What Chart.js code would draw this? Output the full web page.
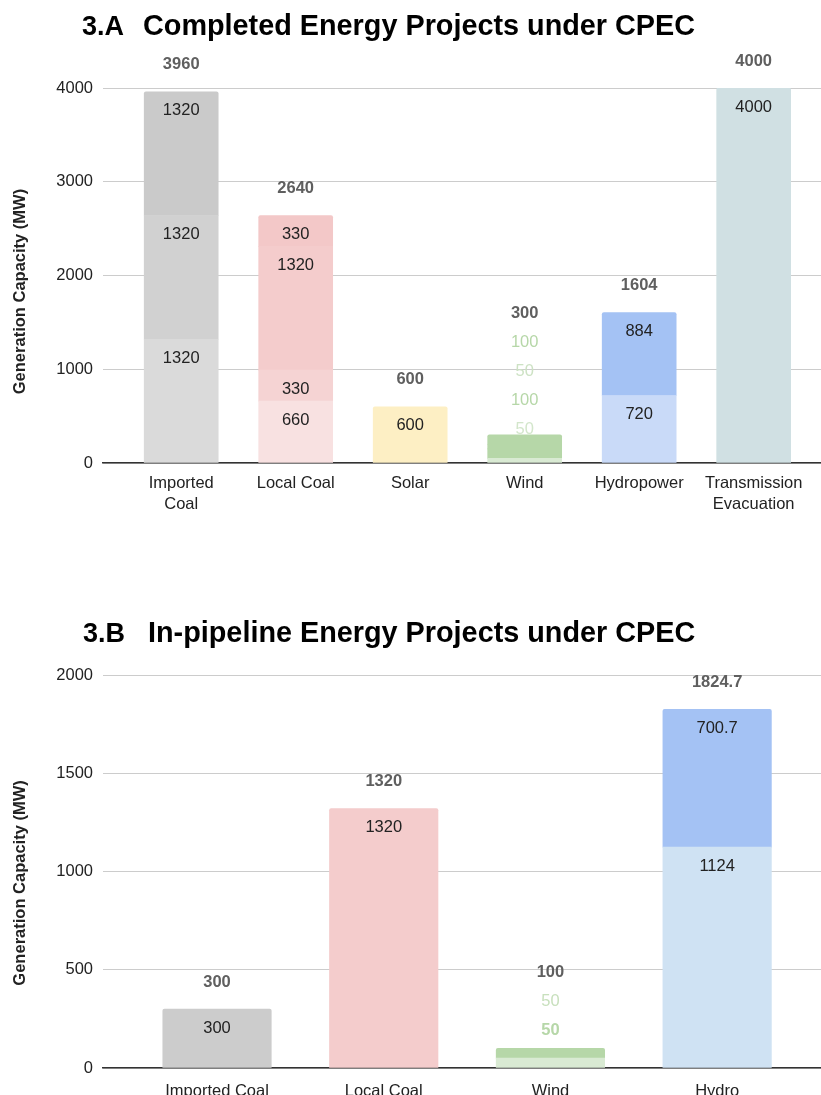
<!DOCTYPE html>
<html>
<head>
<meta charset="utf-8">
<script src="https://cdn.jsdelivr.net/npm/chart.js@4.4.1/dist/chart.umd.min.js"></script>
<style>
html, body { margin: 0; padding: 0; background: #fff; }
body { width: 821px; height: 1095px; position: relative; overflow: hidden; font-family: 'Liberation Sans', Arial, sans-serif; }
canvas { position: absolute; left: 0; }
#chartA { top: 0; }
#chartB { top: 580px; }
.title { position: absolute; font-weight: bold; font-size: 28.8px; line-height: 28px; white-space: nowrap; color: #000; }
.title.num { font-size: 27px; }
</style>
</head>
<body>
<canvas id="chartA" width="821" height="560"></canvas>
<canvas id="chartB" width="821" height="515"></canvas>
<div class="title num" style="left:82px;top:12px;">3.A</div>
<div class="title" style="left:143px;top:11px;">Completed Energy Projects under CPEC</div>
<div class="title num" style="left:83px;top:619px;">3.B</div>
<div class="title" style="left:148px;top:618px;">In-pipeline Energy Projects under CPEC</div>
<script>
// 3.A completed projects (MW), stacked from the bottom segment up
var labelsA = [['Imported', 'Coal'], 'Local Coal', 'Solar', 'Wind', 'Hydropower', ['Transmission', 'Evacuation']];
var layer1A = [1320, 660, 600, 50, 720, 4000];
var layer2A = [1320, 330, null, 100, 884, null];
var layer3A = [1320, 1320, null, 50, null, null];
var layer4A = [null, 330, null, 100, null, null];
var colors1A = ['#dadada', '#f8e1e1', '#fdefc4', '#d9ead3', '#c9daf8', '#d0e0e3'];
var colors2A = ['#d1d1d1', '#f5d3d3', null, '#b6d7a8', '#a4c2f4', null];
var colors3A = ['#cacaca', '#f4cccc', null, '#b6d7a8', null, null];
var colors4A = [null, '#f3c8c8', null, '#b6d7a8', null, null];

// 3.B in-pipeline projects (MW)
var labelsB = ['Imported Coal', 'Local Coal', 'Wind', 'Hydro'];
var layer1B = [300, 1320, 50, 1124];
var layer2B = [null, null, 50, 700.7];
var colors1B = ['#cccccc', '#f4cccc', '#d9ead3', '#cfe2f3'];
var colors2B = [null, null, '#b6d7a8', '#a4c2f4'];

Chart.defaults.font.family = "'Liberation Sans', Arial, sans-serif";
Chart.defaults.font.size = 16.5;
Chart.defaults.color = '#222';

function makeSets(layers, colors) {
    return layers.map(function (vals, k) {
        var pts = [], cols = [], radii = [];
        vals.forEach(function (v, i) {
            if (v === null) return;
            var isTop = layers.slice(k + 1).every(function (l) { return l[i] === null; });
            pts.push({x: i, y: v});
            cols.push(colors[k][i]);
            radii.push(isTop ? 2 : 0);
        });
        return { data: pts, backgroundColor: cols, borderWidth: 0, borderRadius: radii };
    });
}

// value labels: inside each segment, or stacked above the bar when the segments are thin
var segLabels = {
    id: 'segLabels',
    afterDatasetsDraw: function (chart, args, opts) {
        var ctx = chart.ctx;
        ctx.save();
        ctx.textAlign = 'center';
        ctx.textBaseline = 'middle';
        for (var i = 0; i < opts.count; i++) {
            var segs = [];
            chart.data.datasets.forEach(function (ds, k) {
                var meta = chart.getDatasetMeta(k);
                ds.data.forEach(function (p, j) {
                    if (p.x === i) segs.push({el: meta.data[j], v: p.y, k: k});
                });
            });
            var total = 0, top = Infinity, thin = false, cx = 0;
            segs.forEach(function (s) {
                var pr = s.el.getProps(['x', 'y', 'base'], true);
                s.top = pr.y; cx = pr.x;
                if (pr.base - pr.y < 24) thin = true;
                top = Math.min(top, pr.y);
                total += s.v;
            });
            var yy;
            if (!thin) {
                ctx.font = '16.5px "Liberation Sans", Arial, sans-serif';
                ctx.fillStyle = '#222';
                segs.forEach(function (s) { ctx.fillText(String(s.v), cx, s.top + 19); });
                yy = top - 27;
            } else {
                yy = top - opts.outFirst;
                segs.forEach(function (s, n) {
                    var st = opts.outStyle[n];
                    ctx.font = (st.bold ? 'bold ' : '') + '16.5px "Liberation Sans", Arial, sans-serif';
                    ctx.fillStyle = st.color;
                    ctx.fillText(String(s.v), cx, yy);
                    yy -= opts.outStep;
                });
            }
            ctx.font = 'bold 16.5px "Liberation Sans", Arial, sans-serif';
            ctx.fillStyle = '#5f5f5f';
            ctx.fillText(String(Math.round(total * 10) / 10), cx, yy);
        }
        ctx.restore();
    }
};

function makeChart(id, labels, sets, opt) {
    return new Chart(document.getElementById(id), {
        type: 'bar',
        data: { datasets: sets },
        plugins: [segLabels],
        options: {
            responsive: false,
            animation: false,
            layout: { padding: { top: opt.padTop, bottom: opt.padBottom, left: 0, right: 0 } },
            barThickness: opt.barWidth,
            plugins: {
                legend: { display: false },
                tooltip: { enabled: false },
                segLabels: { count: labels.length, outFirst: opt.outFirst, outStep: 29, outStyle: opt.outStyle }
            },
            scales: {
                x: {
                    type: 'linear',
                    stacked: true,
                    min: opt.xMin,
                    max: opt.xMax,
                    offset: false,
                    grid: { display: false },
                    border: { display: true, color: '#333', width: 1.5 },
                    afterBuildTicks: function (s) { s.ticks = labels.map(function (l, i) { return {value: i}; }); },
                    afterFit: function (s) { s.height = opt.xHeight; },
                    ticks: {
                        autoSkip: false,
                        maxRotation: 0,
                        padding: opt.xPad,
                        font: { size: 16.5, lineHeight: 1.27 },
                        color: '#222',
                        callback: function (v) { return labels[v] !== undefined ? labels[v] : ''; }
                    }
                },
                y: {
                    stacked: true,
                    min: 0,
                    max: opt.yMax,
                    grid: { color: '#cccccc', lineWidth: 1, drawTicks: false },
                    border: { display: false },
                    afterFit: function (s) { s.width = 103; },
                    ticks: { stepSize: opt.yStep, padding: 10, color: '#222', font: { size: 16.5 },
                             callback: function (v) { return String(v); } },
                    title: {
                        display: true,
                        // trailing spaces push the visible text down, as in the original
                        text: 'Generation Capacity (MW)' + opt.titleTail,
                        color: '#222',
                        font: { size: 16.5, weight: 'bold' },
                        padding: { top: 11, bottom: 0 }
                    }
                }
            }
        }
    });
}

makeChart('chartA', labelsA,
    makeSets([layer1A, layer2A, layer3A, layer4A], [colors1A, colors2A, colors3A, colors4A]),
    { padTop: 88, padBottom: 37, xHeight: 60, xPad: 2, xMin: -0.683, xMax: 5.588, barWidth: 74, yMax: 4000, yStep: 1000,
      titleTail: '\u00a0\u00a0\u00a0\u00a0\u00a0\u00a0\u00a0',
      outFirst: 5,
      outStyle: [{color: '#d3e6cb'}, {color: '#b6d7a8'}, {color: '#cde2c4'}, {color: '#b6d7a8'}] });

makeChart('chartB', labelsB,
    makeSets([layer1B, layer2B], [colors1B, colors2B]),
    { padTop: 95, padBottom: 0, xHeight: 27, xPad: 5, xMin: -0.684, xMax: 3.623, barWidth: 108.5, yMax: 2000, yStep: 500,
      titleTail: '\u00a0\u00a0\u00a0\u00a0\u00a0',
      outFirst: 18,
      outStyle: [{color: '#b6d7a8', bold: true}, {color: '#c8e0bd'}] });
</script>
</body>
</html>
